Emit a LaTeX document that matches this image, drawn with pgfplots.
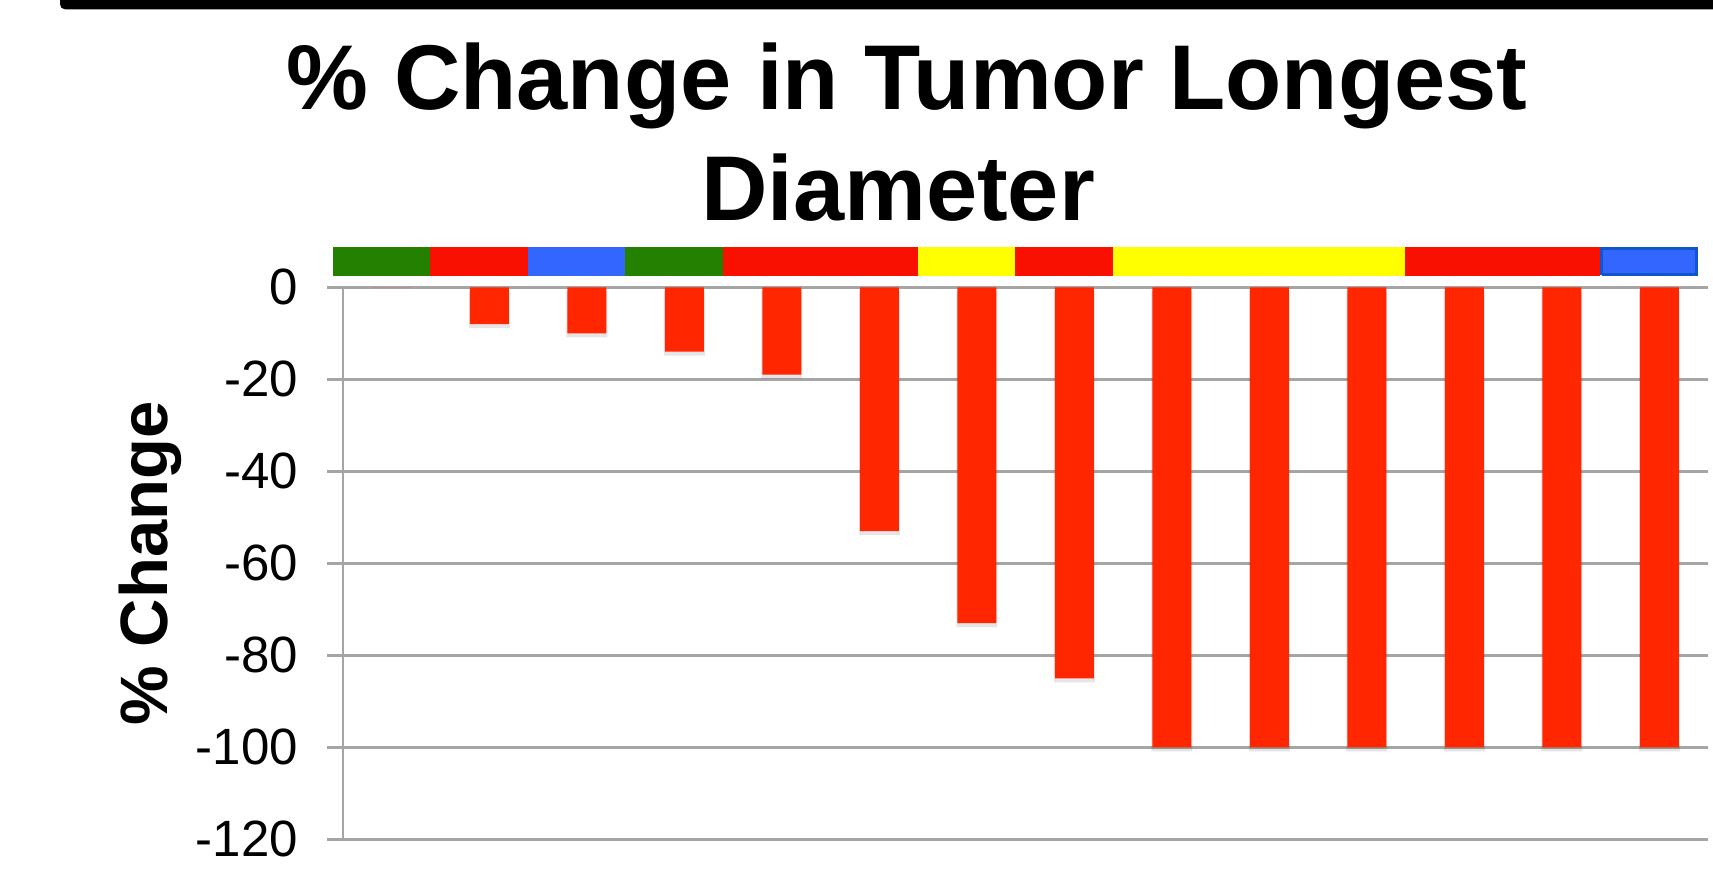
\documentclass[border=0pt]{standalone}
\usepackage{fontspec}
\setmainfont{Liberation Sans}
\usepackage{pgfplots}
\pgfplotsset{compat=1.18}
\definecolor{barred}{RGB}{255,38,0}
\definecolor{sred}{RGB}{249,16,0}
\definecolor{sgreen}{RGB}{35,128,0}
\definecolor{sblue}{RGB}{51,102,255}
\definecolor{syellow}{RGB}{255,255,0}
\definecolor{sblueedge}{RGB}{17,85,204}
\definecolor{gridgray}{RGB}{165,165,165}
\begin{document}
\begin{tikzpicture}
\fill[black] (60bp,0) -- (1720bp,0) -- (1720bp,-9.3bp) -- (65bp,-9.3bp) arc[start angle=270,end angle=180,radius=5bp] -- cycle;
\node[anchor=base, inner sep=0pt, font=\fontsize{92bp}{111bp}\selectfont\bfseries] at (907bp,-109bp) {\% Change in Tumor Longest};
\node[anchor=base, inner sep=0pt, font=\fontsize{92bp}{111bp}\selectfont\bfseries] at (898bp,-220bp) {Diameter};
\begin{axis}[
  at={(343bp,-839.3bp)}, anchor=south west,
  scale only axis, width=1365bp, height=552bp,
  xmin=-0.5, xmax=13.5, ymin=-120, ymax=0,
  clip=false,
  axis x line=none, axis y line*=left,
  y axis line style={draw=gridgray, line width=2.5bp, -},
  ymajorgrids,
  grid style={draw=gridgray, line width=2.5bp},
  ytick={-120,-100,-80,-60,-40,-20,0},
  yticklabels={-120,-100,-80,-60,-40,-20,0},
  tick align=outside,
  major tick length=16bp,
  ytick style={draw=gridgray, line width=2.5bp},
  yticklabel style={font=\fontsize{51bp}{60bp}\selectfont, anchor=east, inner sep=0pt, xshift=-29bp},
  ylabel={\% Change},
  ylabel style={font=\fontsize{67bp}{80bp}\selectfont\bfseries, at={(axis description cs:-0.1415,0.5)}, anchor=center, inner sep=0pt},
]
% bar shadows
\addplot[ybar, bar width=41bp, fill=black, opacity=0.10, draw=none, yshift=-4bp]
  coordinates {(0,0) (1,-8) (2,-10) (3,-14) (4,-19) (5,-53) (6,-73) (7,-85) (8,-100) (9,-100) (10,-100) (11,-100) (12,-100) (13,-100)};
% bars
\addplot[ybar, bar width=39bp, fill=barred, draw=none]
  coordinates {(0,0) (1,-8) (2,-10) (3,-14) (4,-19) (5,-53) (6,-73) (7,-85) (8,-100) (9,-100) (10,-100) (11,-100) (12,-100) (13,-100)};
% category colour strip
\addplot[fill=sgreen, draw=none] coordinates {(-0.606,2.4) (0.394,2.4) (0.394,8.8) (-0.606,8.8)};
\addplot[fill=sred, draw=none] coordinates {(0.394,2.4) (1.394,2.4) (1.394,8.8) (0.394,8.8)};
\addplot[fill=sblue, draw=none] coordinates {(1.394,2.4) (2.394,2.4) (2.394,8.8) (1.394,8.8)};
\addplot[fill=sgreen, draw=none] coordinates {(2.394,2.4) (3.394,2.4) (3.394,8.8) (2.394,8.8)};
\addplot[fill=sred, draw=none] coordinates {(3.394,2.4) (5.394,2.4) (5.394,8.8) (3.394,8.8)};
\addplot[fill=syellow, draw=none] coordinates {(5.394,2.4) (6.394,2.4) (6.394,8.8) (5.394,8.8)};
\addplot[fill=sred, draw=none] coordinates {(6.394,2.4) (7.394,2.4) (7.394,8.8) (6.394,8.8)};
\addplot[fill=syellow, draw=none] coordinates {(7.394,2.4) (10.394,2.4) (10.394,8.8) (7.394,8.8)};
\addplot[fill=sred, draw=none] coordinates {(10.394,2.4) (12.394,2.4) (12.394,8.8) (10.394,8.8)};
\addplot[fill=sblue, draw=sblueedge, line width=3bp] coordinates {(12.41,2.73) (13.378,2.73) (13.378,8.47) (12.41,8.47) (12.41,2.73)};
\end{axis}
\pgfresetboundingbox
\path[use as bounding box] (0,0) rectangle (1713bp,-871bp);
\end{tikzpicture}
\end{document}
